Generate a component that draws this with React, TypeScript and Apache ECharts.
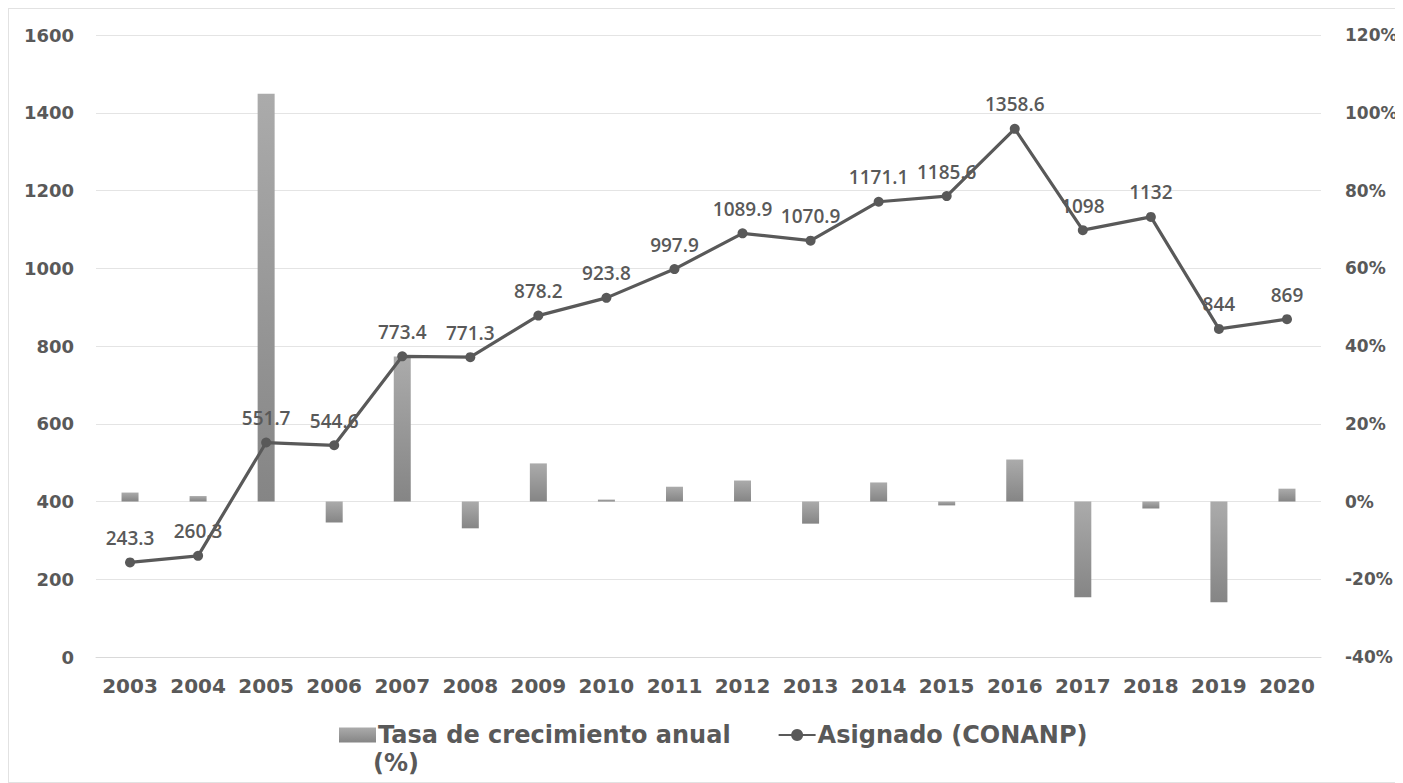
import React, { useEffect, useRef } from "react";
import * as echarts from "echarts";

const years = ["2003","2004","2005","2006","2007","2008","2009","2010","2011","2012","2013","2014","2015","2016","2017","2018","2019","2020"];
const asignado = [243.3, 260.3, 551.7, 544.6, 773.4, 771.3, 878.2, 923.8, 997.9, 1089.9, 1070.9, 1171.1, 1185.6, 1358.6, 1098, 1132, 844, 869];
const tasa = [2.3, 1.4, 104.9, -5.4, 37.3, -6.9, 9.8, 0.5, 3.8, 5.4, -5.7, 4.9, -1.0, 10.8, -24.6, -1.8, -25.9, 3.3];
const leftTicks = { min: 0, max: 1600, interval: 200 };
const rightTicks = { min: -40, max: 120, interval: 20 };
const barName = "Tasa de crecimiento anual (%)";
const lineName = "Asignado (CONANP)";

const TXT = "#595959";
const AXISFONT = "DejaVu Sans";

export default function App() {
  const ref = useRef<HTMLDivElement>(null);
  useEffect(() => {
    if (!ref.current) return;
    const chart = echarts.init(ref.current, undefined, { renderer: "svg" });
    chart.setOption({
      animation: false,
      backgroundColor: "#ffffff",
      grid: { left: 87, top: 26, width: 1225, height: 622, containLabel: false },
      legend: {
        left: 325,
        top: 709,
        itemWidth: 37,
        itemHeight: 15,
        itemGap: 47,
        data: [
          { name: barName, icon: "rect" },
          { name: lineName },
        ],
        formatter: (n: string) => (n === barName ? "Tasa de crecimiento anual" : n),
        textStyle: { fontFamily: AXISFONT, fontWeight: "bold", fontSize: 24, color: TXT, padding: [0, 0, 0, -3] },
      },
      graphic: [
        {
          type: "text",
          left: 364,
          top: 742,
          style: { text: "(%)", fontFamily: AXISFONT, fontWeight: "bold", fontSize: 24, fill: TXT },
        },
      ],
      xAxis: {
        type: "category",
        data: years,
        axisLine: { show: true, lineStyle: { color: "#d9d9d9", width: 1 } },
        axisTick: { show: false },
        axisLabel: { interval: 0, fontFamily: AXISFONT, fontWeight: "bold", fontSize: 20, color: TXT, margin: 19 },
      },
      yAxis: [
        {
          type: "value",
          ...leftTicks,
          axisLine: { show: false },
          axisTick: { show: false },
          splitLine: { show: true, lineStyle: { color: "#e4e4e4", width: 1 } },
          axisLabel: {
            fontFamily: AXISFONT,
            fontWeight: "bold",
            fontSize: 18,
            color: TXT,
            margin: 22,
            formatter: (v: number) => String(v),
          },
        },
        {
          type: "value",
          ...rightTicks,
          axisLine: { show: false },
          axisTick: { show: false },
          splitLine: { show: false },
          axisLabel: {
            fontFamily: AXISFONT,
            fontWeight: "bold",
            fontSize: 17,
            color: TXT,
            margin: 24,
            formatter: (v: number) => `${v}%`,
          },
        },
      ],
      series: [
        {
          name: barName,
          type: "bar",
          yAxisIndex: 1,
          data: tasa,
          barWidth: 17,
          itemStyle: {
            color: new echarts.graphic.LinearGradient(0, 0, 0, 1, [
              { offset: 0, color: "#ababab" },
              { offset: 1, color: "#858585" },
            ]),
          },
          z: 1,
        },
        {
          name: lineName,
          type: "line",
          yAxisIndex: 0,
          data: asignado,
          symbol: "circle",
          symbolSize: 10,
          lineStyle: { color: TXT, width: 3.2 },
          itemStyle: { color: TXT },
          label: {
            show: true,
            position: "top",
            distance: 10,
            fontFamily: "Open Sans",
            fontWeight: 600,
            fontSize: 19,
            color: TXT,
          },
          z: 3,
        },
      ],
    });
    return () => chart.dispose();
  }, []);
  return (
    <div
      ref={ref}
      style={{ width: 1395, height: 775, boxSizing: "border-box", border: "1px solid #e2e2e2" }}
    />
  );
}
